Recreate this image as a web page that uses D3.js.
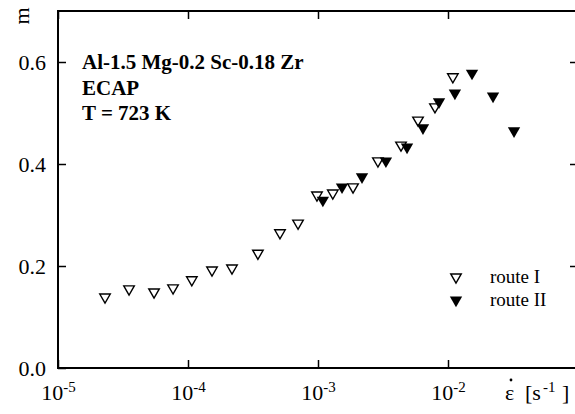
<!DOCTYPE html>
<html>
<head>
<meta charset="utf-8">
<script src="https://cdn.jsdelivr.net/npm/d3@7"></script>
<style>
  body { margin: 0; background: #fff; }
  svg text { font-family: "Liberation Serif", "Times New Roman", serif; fill: #000; }
</style>
</head>
<body>
<svg id="chart"></svg>
<script>
// strain rate (s^-1) and strain rate sensitivity m
var route1Rate = [2.30e-5, 3.52e-5, 5.48e-5, 7.67e-5, 1.07e-4, 1.53e-4, 2.18e-4, 3.45e-4, 5.10e-4, 7.02e-4,
                  9.82e-4, 1.30e-3, 1.86e-3, 2.89e-3, 4.35e-3, 5.88e-3, 7.94e-3, 1.09e-2];
var route1M    = [0.139, 0.155, 0.149, 0.157, 0.173, 0.192, 0.196, 0.225, 0.265, 0.284,
                  0.339, 0.343, 0.355, 0.406, 0.437, 0.486, 0.512, 0.571];
var route2Rate = [1.09e-3, 1.53e-3, 2.18e-3, 3.33e-3, 4.84e-3, 6.42e-3, 8.53e-3, 1.13e-2, 1.53e-2, 2.22e-2, 3.22e-2];
var route2M    = [0.329, 0.355, 0.375, 0.406, 0.433, 0.471, 0.522, 0.539, 0.578, 0.533, 0.465];

var xTicks = [1e-5, 1e-4, 1e-3, 1e-2];
var xExps = ["-5", "-4", "-3", "-2"];
var yTicks = [0, 0.2, 0.4, 0.6];
var infoLines = ["Al-1.5 Mg-0.2 Sc-0.18 Zr", "ECAP", "T = 723 K"];
var legendNames = ["route I", "route II"];

var screen = {width: 575, height: 414};
var margins = {top: 11, right: -3, bottom: 46, left: 58};
var serif = "'Liberation Serif', 'Times New Roman', serif";

var svg = d3.select("#chart")
    .attr("width", screen.width)
    .attr("height", screen.height);

var width = screen.width - margins.left - margins.right;
var height = screen.height - margins.top - margins.bottom;

var xScale = d3.scaleLog()
    .domain([1e-5, 1e-1])
    .range([margins.left, margins.left + width]);

var yScale = d3.scaleLinear()
    .domain([0, 0.7])
    .range([margins.top + height, margins.top]);

// frame
svg.append("rect")
    .attr("x", xScale(1e-5))
    .attr("y", yScale(0.7))
    .attr("width", xScale(1e-1) - xScale(1e-5))
    .attr("height", yScale(0) - yScale(0.7))
    .attr("fill", "none")
    .attr("stroke", "#000")
    .attr("stroke-width", 2);

// bottom axis: inward ticks, labels done by hand for superscripts
var xAxis = d3.axisBottom(xScale).tickValues(xTicks).tickSizeInner(-8).tickSizeOuter(0).tickFormat("");
var gx = svg.append("g")
    .attr("transform", "translate(0," + yScale(0) + ")")
    .call(xAxis);
gx.select(".domain").remove();
gx.selectAll(".tick line").attr("stroke-width", 1.5);

gx.selectAll(".tick").each(function(d, i) {
    var t = d3.select(this).append("text")
        .attr("y", 32)
        .attr("text-anchor", "middle")
        .attr("font-family", serif)
        .attr("font-size", 22);
    t.append("tspan").text("10");
    t.append("tspan").attr("dy", -8).attr("font-size", 15).text(xExps[i]);
});

// top axis ticks
var topAxis = d3.axisTop(xScale).tickValues(xTicks).tickSizeInner(-8).tickSizeOuter(0).tickFormat("");
var gt = svg.append("g")
    .attr("transform", "translate(0," + yScale(0.7) + ")")
    .call(topAxis);
gt.select(".domain").remove();
gt.selectAll(".tick line").attr("stroke-width", 1.5);

// left axis
var yAxis = d3.axisLeft(yScale).tickValues(yTicks).tickSizeInner(-8).tickSizeOuter(0)
    .tickPadding(12).tickFormat(d3.format(".1f"));
var gy = svg.append("g")
    .attr("transform", "translate(" + xScale(1e-5) + ",0)")
    .call(yAxis);
gy.select(".domain").remove();
gy.selectAll(".tick line").attr("stroke-width", 1.5);
gy.selectAll("text").attr("font-size", 22).attr("font-family", serif);

// right axis ticks
var rightAxis = d3.axisRight(yScale).tickValues(yTicks.slice(1)).tickSizeInner(-8).tickSizeOuter(0).tickFormat("");
var gr = svg.append("g")
    .attr("transform", "translate(" + xScale(1e-1) + ",0)")
    .call(rightAxis);
gr.select(".domain").remove();
gr.selectAll(".tick line").attr("stroke-width", 1.5);

// axis titles
svg.append("text")
    .attr("transform", "translate(29,16) rotate(-90)")
    .attr("text-anchor", "middle")
    .attr("font-family", serif)
    .attr("font-size", 22)
    .text("m");

var xt = svg.append("text")
    .attr("y", 400)
    .attr("font-family", serif)
    .attr("font-size", 22);
xt.append("tspan").attr("x", 505).text("\u03b5");
xt.append("tspan").attr("x", 525).text("[s");
xt.append("tspan").attr("x", 543).attr("dy", -8).attr("font-size", 15).text("-1");
xt.append("tspan").attr("x", 562).attr("dy", 8).text("]");
// dot over epsilon (rate)
svg.append("circle")
    .attr("cx", 511)
    .attr("cy", 380)
    .attr("r", 1.4)
    .attr("fill", "#000");

// info text
svg.selectAll(".info")
    .data(infoLines)
    .enter()
    .append("text")
    .attr("class", "info")
    .attr("x", 82)
    .attr("y", function(d, i) { return 69 + i * 25.5; })
    .attr("font-family", serif)
    .attr("font-size", 21)
    .attr("font-weight", "bold")
    .text(function(d) { return d; });

// markers
var openTri = d3.symbol().type(d3.symbolTriangle).size(48);
var fullTri = d3.symbol().type(d3.symbolTriangle).size(66);

var route1 = route1Rate.map(function(r, i) { return {x: r, y: route1M[i]}; });
var route2 = route2Rate.map(function(r, i) { return {x: r, y: route2M[i]}; });

svg.append("g").selectAll("path")
    .data(route1)
    .enter()
    .append("path")
    .attr("d", openTri)
    .attr("transform", function(d) { return "translate(" + xScale(d.x) + "," + yScale(d.y) + ") rotate(180)"; })
    .attr("fill", "#fff")
    .attr("stroke", "#000")
    .attr("stroke-width", 1.4);

svg.append("g").selectAll("path")
    .data(route2)
    .enter()
    .append("path")
    .attr("d", fullTri)
    .attr("transform", function(d) { return "translate(" + xScale(d.x) + "," + yScale(d.y) + ") rotate(180)"; })
    .attr("fill", "#000");

// legend
var legend = svg.append("g");
legendNames.forEach(function(name, i) {
    var ly = 277 + i * 23;
    legend.append("path")
        .attr("d", i === 0 ? openTri : fullTri)
        .attr("transform", "translate(456," + ly + ") rotate(180)")
        .attr("fill", i === 0 ? "#fff" : "#000")
        .attr("stroke", i === 0 ? "#000" : "none")
        .attr("stroke-width", 1.4);
    legend.append("text")
        .attr("x", 490)
        .attr("y", ly + 6)
        .attr("font-family", serif)
        .attr("font-size", 19)
        .text(name);
});
</script>
</body>
</html>
